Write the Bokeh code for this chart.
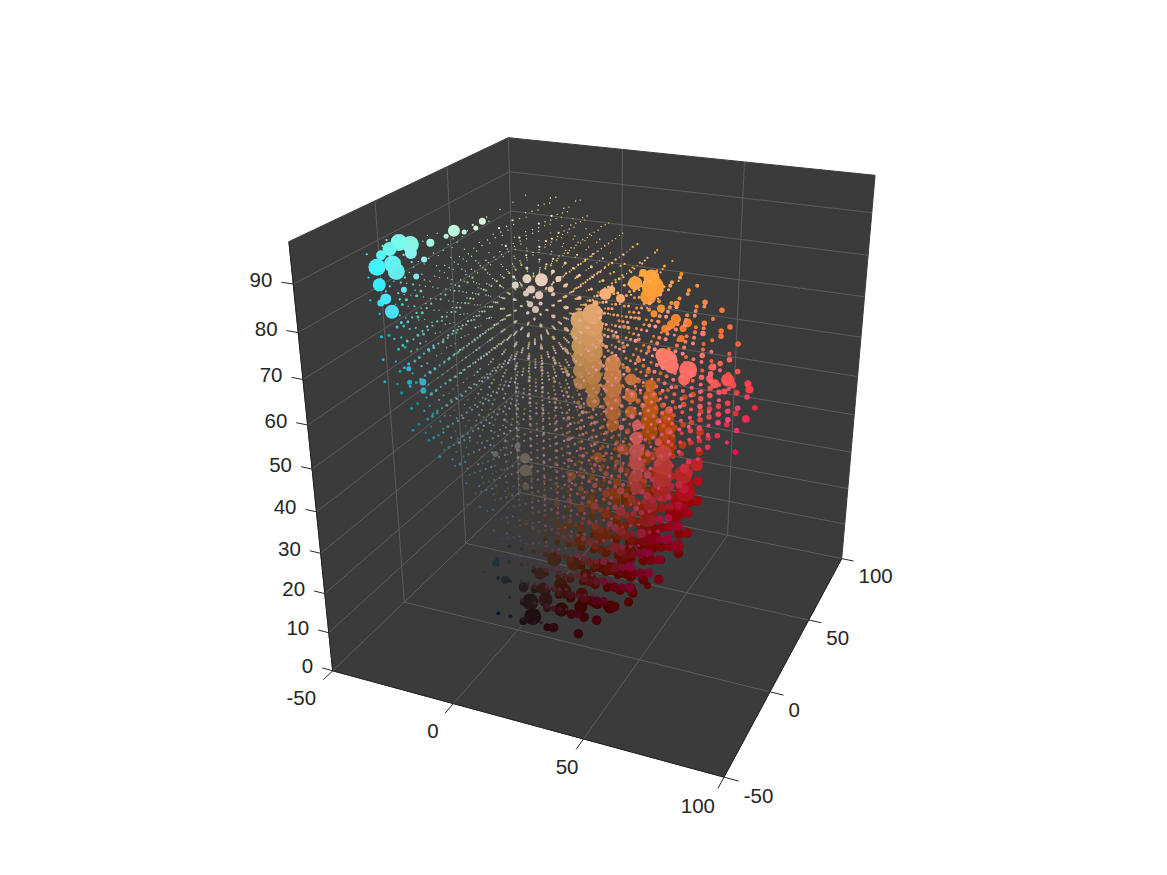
import numpy as np
from bokeh.plotting import figure
from bokeh.models import Range1d
from bokeh.embed import file_html
from bokeh.resources import INLINE

# axes
a_ticks = [-50, 0, 50, 100]
b_ticks = [-50, 0, 50, 100]
L_ticks = [0, 10, 20, 30, 40, 50, 60, 70, 80, 90]
a_lim = (-50, 100)
b_lim = (-50, 100)
L_lim = (0, 98.5)

# camera: box corners (a, b, L) and where the view puts them on the page
camera_box = [(-50, -50, 0), (100, -50, 0), (100, 100, 0), (-50, 100, 0),
              (-50, -50, 98.5), (-50, 100, 98.5), (100, 100, 98.5)]
camera_view = [(333, 670), (722, 778), (842, 556), (518, 493),
               (289, 240), (507, 137), (875, 176)]

size_class = {"0": 1.4, "1": 2.2, "2": 3.0, "3": 4.0, "4": 5.5, "5": 7.5, "6": 9.5, "7": 12.0}

# lattice of small histogram cells
cell_a = [-45, -35, -25, -15, -5, 5, 15, 25, 35, 45, 55, 65, 75]
cell_b = [85, 75, 65, 55, 45, 35, 25, 15, 5, -5, -15, -25, -35]
cells_by_L = {
    95: ["", "", "", "", "...000", "...000", "...001", "...011", "...110"],
    90: ["", "", "...0", "...000", "...0000", "..00000", "..000100", ".0000101", ".000011", "1000000", "10000"],
    85: ["", "...000", "...0000", "...00001", "..000000", "..0000001", ".00000101", ".0000011", "10000111", "1000000", "1000000", ".10000"],
    80: ["", "...00011", "...000011", "..0000001", "..00000011", ".000001112", ".000001111", ".000001111", "1000001111", "100000000", "10000000", ".1000000"],
    75: ["", "....11123", "...1111233", "..11111223", "..111122223", ".1111222233", ".1111122223", "21111112222", "2111111223", "21111111122", ".2111111", ".2211111"],
    70: ["", "", "....1112334", "...11112233", "..111122233", ".1111122233", ".11111222333", "211111122233", "211111112233", "21111111222", ".2111111112", ".2211111"],
    65: ["", "", ".....112234", "...111122334", "..1111222333", "..1111122334", ".11111122334", ".211111222333", "2111111122333", ".211111112233", ".21111111222", ".2211111"],
    60: ["", "", "", "....1112333", "...111222334", "..1111222333", ".11111222334", ".111111223344", ".211111122334", ".2111111122333", ".21111111123", "..2111111"],
    55: ["", "", "", ".....112334", "...11122333", "..1111222334", "..1111222334", ".11111122334", ".21111122233", ".21111112223", "..211111112", "..21111111"],
    50: ["", "", "", "......1234", "....1112334", "...11122334", "..1111222334", "..1111222334", ".21111122334", ".2111112223", "..21111112", "...2111111"],
    45: ["", "", "", "", ".....112345", "....1122344", "..111122334", "..111122334", "..11112223", "..11111223", "...11111122", "....1111"],
    40: ["", "", "", "", "......12345", "....1223345", "...11223345", "...11223345", "...11122234", "...11112223", "....1111222", "....11"],
    35: ["", "", "", "", "", ".....123455", "...12233455", "...11223345", "...11223345", "....1122223", ".....111222", ".....111"],
    30: ["", "", "", "", "", "......23456", "....1234566", "...12334566", "....1223345", "....1223345", ".....12223", ".....11"],
    25: ["", "", "", "", "", "", ".....234566", "....2344566", ".....233456", ".....233456", ".....12233"],
    20: ["", "", "", "", "", "", "......34566", ".....34566", "....3344566", "....334455", "....11233"],
    15: ["", "", "", "", "", "", "", "......4566", ".....44566", "....33456", ".....233"],
    10: ["", "", "", "", "", "", "", "", ".....5566", ".....4566", ".....33"],
    5: ["", "", "", "", "", "", "", "", "", ".....55"],
}

# second lattice, between the rows of the first
cell2_a = [-40, -30, -20, -10, 0, 10, 20, 30, 40, 50, 60, 70, 80]
cell2_b = [80, 70, 60, 50, 40, 30, 20, 10, 0, -10, -20, -30]
cells2_by_L = {
    92.5: ["", "", "...00", "...00", "...000", "...000", "..0001", "..0011", ".0001", "10"],
    87.5: ["", "...0", "...000", "...0000", "..00000", "..000001", ".0000011", ".0000111", "1000001", "100000", ".1000"],
    82.5: ["", "...000", "...00001", "..000001", "..0000011", ".00000111", ".00000111", ".0000011", "1000001", "1000000", ".10000"],
    77.5: ["", "...11112", "...111123", "..1111223", ".11111223", ".111112233", ".111112223", "2111112223", "211111112", "21111111", ".2111111"],
    72.5: ["", "....11223", "...1112334", "..11112233", ".111112233", ".1111122334", ".1111122233", "21111112233", "2111111222", ".21111111", ".2211111"],
    67.5: ["", "", "....1122344", "...11122334", "..11112233", ".11111223344", ".11111222333", "211111122333", ".21111112233", ".2111111122", ".2211111"],
    62.5: ["", "", ".....11233", "...111223", "..1111223344", ".11111223344", ".111111223344", ".2111112223345", ".2111111222344", ".21111111223", "..2111111"],
    57.5: ["", "", "", "....112334", "..1111223344", "..11112233444", ".111111223345", ".211111222334", ".211111122333", "..21111112", "..2111111", "...11"],
    52.5: ["", "", "", "......1234", "...111223444", "..1111222344", "..1111222344", ".211111223344", ".21111112233", "..2111111", "..2211111"],
    47.5: ["", "", "", "", "....112234", "...11122334", "..11112233", "..11112233", "..211112233", "..211111122", "...211111"],
    42.5: ["", "", "", "", ".....12345", "....1223345", "...11223345", "...11223345", "..111223344", "...1111222", "....1111"],
    37.5: ["", "", "", "", "", ".....123456", "....1223456", "...11233455", "...11223445", "...11122233", "....1111"],
    32.5: ["", "", "", "", "", "......23456", ".....234566", "....1234566", "....2234566", "....112233", ".....111"],
    27.5: ["", "", "", "", "", "", "......34566", ".....345667", "....234566", "....233456", ".....1122"],
    22.5: ["", "", "", "", "", "", ".......456", "......4566", ".....34566", ".....33456", "......122"],
    17.5: ["", "", "", "", "", "", "", "......456", "......456", ".....3445", "......12"],
    12.5: ["", "", "", "", "", "", "", "", "......566", "......45", "......2"],
    7.5: ["", "", "", "", "", "", "", "", "", "......66"],
}

# third lattice, between the columns of the first
cell3_a = [-40, -30, -20, -10, 0, 10, 20, 30, 40, 50, 60, 70]
cells3_by_L = {
    85: ["", "...0", "...00", "...000", "..0000", "..00011", ".000122", ".000232", "1000231", "100011", "10000"],
    80: ["", "...00", "...000", "..00001", "..000011", ".0001222", ".0001322", ".0002332", "1000232", "100012", "10000", ".100"],
    75: ["", "....01", "...0012", "..00112", "..001122", ".0011222", ".0012322", ".0012322", "1001222", "100112", ".10001", ".1100"],
    70: ["", "", "....0123", "...01123", "..011223", ".0112223", ".0012333", ".0012223", "1001222", "1001122", ".100011", ".11000"],
    65: ["", "", ".....123", "...1123", "..011233", ".011223", ".0112333", ".0112223", "1011223", ".10112", ".10011", ".1100"],
    60: ["", "", "", "....1233", "...12334", "..112334", ".0112334", ".01122334", ".101222333", ".1011223", "..100112", "..1000"],
    55: ["", "", "", ".....234", "...12334", "..1123344", "..11223345", ".011223344", ".10122334", ".1012222", "..10111", "..1100"],
    50: ["", "", "", "......23", "....12344", "...123344", "..11223345", "..11223345", ".101223344", ".1012223", "..10122", "...1100"],
    45: ["", "", "", "", ".....1234", "....12344", "..11223345", "..112233456", "..11223345", "..1012233", "...10112", "....10"],
    40: ["", "", "", "", "......234", "....12345", "...1223456", "...12334566", "...1223455", "...1122334", "....1122", "....1"],
    35: ["", "", "", "", "", ".....2345", "...123456", "...123455", "...223456", "....12334", ".....122", ".....1"],
    30: ["", "", "", "", "", "......345", "....23456", "...234566", "....23456", "....2334", ".....12"],
    25: ["", "", "", "", "", "", ".....3456", "....34566", ".....3456", ".....334", ".....22"],
    20: ["", "", "", "", "", "", "......456", ".....4566", "....34566", "....3345", ".....23"],
    15: ["", "", "", "", "", "", "", "......566", ".....4566", "....3456", ".....34"],
    10: ["", "", "", "", "", "", "", "", ".....566", ".....456", "....33"],
}

# the large cells, as (a, b, L, diameter class)
cyan_cells = [
    (-39, -4, 91, 17), (-37, 0, 90, 17), (-37, -12, 88, 17), (-40, -17, 88, 17), (-37, -10, 86, 17),
    (-41, -7, 90, 14), (-40, -14, 90, 10), (-32, -8, 90, 12), (-35, -24, 86, 13), (-27, -33, 85.5, 11),
    (-29, -33, 84.5, 7), (-25, -33, 83, 14), (-23, 6, 93, 12), (-14, 10, 95, 7), (-29, 0, 91, 8),
    (-15, 7, 94, 5), (-19, 6, 93, 5), (-25, 4, 92, 5), (-28, -12, 86, 6), (-27, -8, 89, 6),
    (-30, -17, 84, 6), (-37, -20, 85, 6), (-23, -20, 65, 7), (-23, -20, 63, 6), (-27, -22, 68, 5),
    (-27, -22, 65, 5),
]
cream_cells = [
    (8, 10, 84, 13), (3, 9, 84, 9), (0, 6, 83, 7), (5, 8, 82, 8), (8, 8, 81, 8), (13, 13, 84, 6),
    (11, 11, 82, 6), (7, 7, 78, 7), (3, 8, 81, 6), (5, 7, 79, 6),
]
olive_cells = [(2, 6, 43, 10), (2, 6, 40, 12), (2, 6, 36, 7), (-2, 8, 45, 6), (-8, 2, 44, 6)]
peach_cells = [(21, 35, 77, 12), (26, 37, 76, 9), (21, 30, 74, 6), (18, 33, 75, 6), (23, 36, 78, 7)]
orange_cells = [
    (26, 67, 75, 16), (27, 66, 73, 22), (26, 64, 71, 16), (21, 63, 74, 14), (23, 66, 76, 8),
    (32, 62, 69, 8), (30, 60, 68, 7), (38, 62, 67, 10), (37, 60, 66, 9), (35, 59, 65, 8),
    (37, 65, 70, 6), (42, 64, 66, 9), (41, 62, 65, 7), (41, 60, 63, 7),
]
pink_cells = [
    (49, 25, 66.5, 20), (47, 25, 67.5, 14), (51, 24, 65.5, 14), (56, 27, 64.5, 18), (55, 26, 62.5, 12), (65, 30, 61.5, 9),
    (63, 30, 62.5, 7), (63, 33, 64.5, 7), (68, 35, 61.5, 13), (70, 35, 60.5, 7), (68, 32, 59.5, 6), (74, 40, 60, 7), (75, 39, 59, 8),
]
tan_cells = [
    (11, 35, 70, 19), (11, 35, 67, 19), (11, 35, 64, 18), (11, 35, 61, 17), (11, 35, 58, 15), (11, 35, 55, 14),
    (16, 35, 72, 20), (16, 35, 69, 21), (16, 35, 66, 21), (16, 35, 63, 20), (16, 35, 60, 19), (16, 35, 57, 17), (16, 35, 54, 15), (16, 35, 51, 14),
    (24, 35, 61, 16), (24, 35, 58, 18), (24, 35, 55, 18), (24, 35, 52, 17), (24, 35, 49, 16), (24, 35, 46, 13),
    (30, 38, 57, 12), (30, 38, 53, 13), (30, 38, 49, 12),
]
rose_cells = [
    (43, 12, 54, 10), (43, 12, 51, 13), (43, 12, 48, 15), (43, 12, 45, 15), (43, 12, 42, 13), (43, 12, 39, 12),
    (50, 20, 46, 16), (50, 20, 43, 19), (50, 20, 40, 19), (50, 20, 36, 17), (56, 25, 40, 18), (57, 25, 36, 20), (55, 25, 33, 18),
    (53, 25, 30, 18), (48, 18, 25, 14), (46, 18, 30, 16), (60, 28, 42, 12), (47, 16, 34, 14),
]
brown_cells = [
    (33, 50, 53, 12), (33, 50, 50, 15), (33, 50, 47, 17), (33, 50, 44, 18), (33, 50, 41, 16), (40, 50, 46, 14), (40, 50, 43, 18),
    (40, 50, 40, 18), (40, 50, 37, 16), (33, 45, 36, 16), (33, 40, 31, 14), (40, 40, 30, 14), (28, 40, 26, 13), (22, 34, 23, 11),
]
dark_cells = [
    (51, 18, 20, 7), (46, 20, 22, 12), (48, 12, 15, 7), (42, 10, 14, 11), (43, 6, 12, 9), (36, 5, 10, 13),
    (31, 5, 10, 10), (25, 3, 9, 13), (18, 1, 8, 14), (8, -3, 6, 17), (6, -1, 9, 16),
    (38, 12, 20, 12), (30, 12, 18, 12), (24, 10, 15, 12), (16, 5, 13, 13), (10, 2, 12, 12),
]
body_cells = [
    (12, 8, 18, 14), (20, 8, 18, 14), (28, 5, 16, 13), (34, 10, 18, 13), (40, 14, 22, 13), (45, 18, 26, 13),
    (20, 14, 22, 12), (28, 14, 24, 13), (35, 18, 26, 13), (42, 22, 30, 13), (14, 12, 25, 10), (22, 20, 30, 11),
    (30, 22, 33, 12), (38, 25, 36, 13), (8, 4, 15, 12), (3, 0, 12, 10), (-2, -5, 15, 8), (-4, -8, 20, 7),
    (-2, 0, 25, 6), (2, 5, 27, 7), (14, 20, 36, 9), (22, 26, 40, 10), (30, 30, 42, 11), (18, 4, 12, 13),
    (12, 0, 10, 14), (26, 2, 13, 12),
]


def lab_to_rgb(L, a, b):
    b = b + min(max(a / 30, 0), 1) * min(max((60 - b) / 40, 0), 1) * (10 + 8 * min(max((60 - L) / 40, 0), 1))
    fy = (L + 16) / 116
    fx, fz = fy + a / 500, fy - b / 200
    g = lambda t: t ** 3 if t > 6 / 29 else 3 * (6 / 29) ** 2 * (t - 4 / 29)
    X, Y, Z = 0.95047 * g(fx), g(fy), 1.08883 * g(fz)
    lin = [3.2406 * X - 1.5372 * Y - 0.4986 * Z, -0.9689 * X + 1.8758 * Y + 0.0415 * Z, 0.0557 * X - 0.2040 * Y + 1.0570 * Z]
    out = []
    for c in lin:
        c = min(max(c, 0), 1)
        out.append(int(round(255 * (12.92 * c if c <= 0.0031308 else 1.055 * c ** (1 / 2.4) - 0.055))))
    return "#%02x%02x%02x" % tuple(out)


rows = []
for (A, B, C), (x, y) in zip(camera_box, camera_view):
    rows.append([A, B, C, 1, 0, 0, 0, 0, -x * A, -x * B, -x * C, -x])
    rows.append([0, 0, 0, 0, A, B, C, 1, -y * A, -y * B, -y * C, -y])
P = np.linalg.svd(np.array(rows, float))[2][-1].reshape(3, 4)
if P[2] @ np.array([25, 25, 50, 1]) < 0:
    P = -P


def proj(a, b, L):
    h = P @ np.array([a, b, L, 1.0])
    return h[0] / h[2], h[1] / h[2], h[2]


W, H = 1150, 858
p = figure(width=W, height=H, x_range=Range1d(0, W), y_range=Range1d(H, 0),
           output_backend="svg", toolbar_location=None, min_border=0)
p.axis.visible = False
p.grid.visible = False
p.outline_line_color = None

wall = "#3b3b3b"
grid = "#5c5c5c"
ink = "#262626"
a0, a1 = a_lim
b0, b1 = b_lim
L0, L1 = L_lim


def poly(c):
    q = [proj(*k) for k in c]
    p.patch([t[0] for t in q], [t[1] for t in q], fill_color=wall, line_color=wall)


def seg(s, e, color=grid, width=1.0):
    q, r = proj(*s), proj(*e)
    p.line([q[0], r[0]], [q[1], r[1]], line_color=color, line_width=width)


poly([(a0, b0, L0), (a1, b0, L0), (a1, b1, L0), (a0, b1, L0)])
poly([(a0, b0, L0), (a0, b1, L0), (a0, b1, L1), (a0, b0, L1)])
poly([(a0, b1, L0), (a1, b1, L0), (a1, b1, L1), (a0, b1, L1)])

for t in a_ticks[1:-1]:
    seg((t, b0, L0), (t, b1, L0))
    seg((t, b1, L0), (t, b1, L1))
for t in b_ticks[1:-1]:
    seg((a0, t, L0), (a1, t, L0))
    seg((a0, t, L0), (a0, t, L1))
for t in L_ticks[1:]:
    seg((a0, b0, t), (a0, b1, t))
    seg((a0, b1, t), (a1, b1, t))
seg((a0, b1, L0), (a0, b1, L1))
seg((a0, b1, L0), (a0, b0, L0))
seg((a0, b1, L0), (a1, b1, L0))

# points
pa, pb, pL, pd = [], [], [], []
for table, acols, brows in ((cells_by_L, cell_a, cell_b), (cells2_by_L, cell2_a, cell2_b), (cells3_by_L, cell3_a, cell_b)):
    for level, block in table.items():
        for bv, row in zip(brows, block):
            for av, ch in zip(acols, row):
                if ch != ".":
                    pa.append(av); pb.append(bv); pL.append(level); pd.append(size_class[ch])
for grp in (cyan_cells, cream_cells, olive_cells, peach_cells, orange_cells, pink_cells, tan_cells, rose_cells, brown_cells, dark_cells, body_cells):
    for av, bv, lv, dv in grp:
        pa.append(av); pb.append(bv); pL.append(lv); pd.append(dv)
pts = [proj(*k) for k in zip(pa, pb, pL)]
order = sorted(range(len(pts)), key=lambda i: -pts[i][2])
p.scatter([pts[i][0] for i in order], [pts[i][1] for i in order], size=[pd[i] for i in order],
          fill_color=[lab_to_rgb(pL[i], pa[i], pb[i]) for i in order], line_color=None)

# axes, ticks, labels
seg((a0, b0, L0), (a1, b0, L0), ink, 1)
seg((a1, b0, L0), (a1, b1, L0), ink, 1)
seg((a0, b0, L0), (a0, b0, L1), ink, 1)

tx, ty, tt, ta = [], [], [], []
for t in L_ticks:
    seg((a0, b0, t), (a0 - 4.5, b0, t), ink, 1)
    q = proj(a0 - 4.5, b0, t)
    tx.append(q[0] - 9); ty.append(q[1] - 2); tt.append(str(t)); ta.append("right")
for t, dx in zip(a_ticks, [-22, -12, -9, -20]):
    seg((t, b0, L0), (t, b0 - 6, L0), ink, 1)
    q = proj(t, b0 - 6, L0)
    tx.append(q[0] + dx); ty.append(q[1] + 18); tt.append(str(t)); ta.append("center")
for t in b_ticks:
    seg((a1, t, L0), (a1 + 5, t, L0), ink, 1)
    q = proj(a1 + 5, t, L0)
    tx.append(q[0] + 5); ty.append(q[1] + 15); tt.append(str(t)); ta.append("left")
p.text(tx, ty, text=tt, text_align=ta, text_baseline="middle", text_color=ink,
       text_font={"value": "Liberation Sans"}, text_font_size="20.5px")

open("out.html", "w").write(file_html(p, INLINE))
